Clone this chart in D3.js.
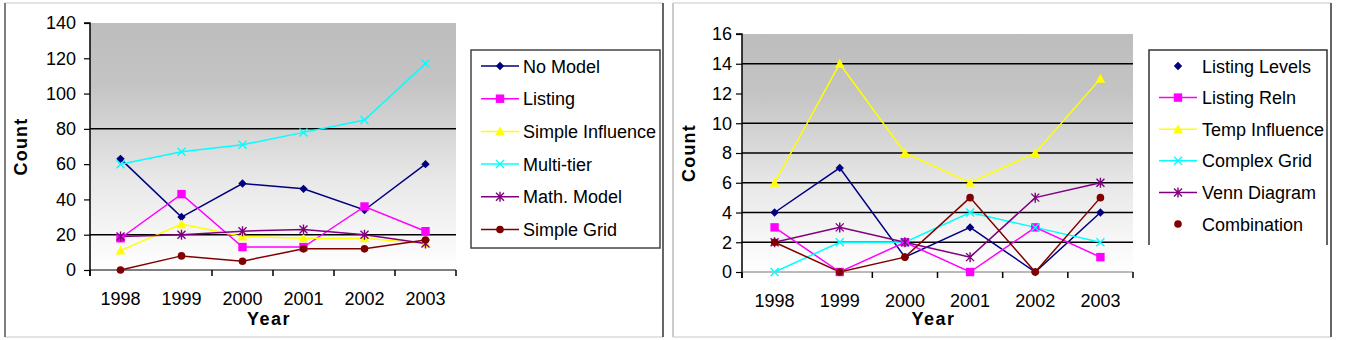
<!DOCTYPE html>
<html lang="en">
<head>
  <meta charset="utf-8">
  <title>Count by Year – two panels</title>
  <style>
    html,body { margin:0; padding:0; background:#fff; overflow:hidden; }
    svg  { display:block; }
    text { font-family:"Liberation Sans", Arial, sans-serif; fill:#000; }
  </style>
  <script src="https://d3js.org/d3.v7.min.js"></script>
</head>
<body>
  <svg width="1345" height="340"></svg>

  <script>
  /* ---------------- DATA ---------------- */
  const years = ["1998", "1999", "2000", "2001", "2002", "2003"];

  // left panel
  const leftNames  = ["No Model", "Listing", "Simple Influence", "Multi-tier", "Math. Model", "Simple Grid"];
  const noModel    = [63, 30, 49, 46, 34, 60];
  const listing    = [18, 43, 13, 13, 36, 22];
  const simpleInfl = [11, 26, 19, 18, 18, 15];
  const multiTier  = [60, 67, 71, 78, 85, 117];
  const mathModel  = [19, 20, 22, 23, 20, 15];
  const simpleGrid = [0, 8, 5, 12, 12, 17];
  const leftTicks  = [0, 20, 40, 60, 80, 100, 120, 140];
  const leftGrid   = [20, 80];

  // right panel
  const rightNames    = ["Listing Levels", "Listing Reln", "Temp Influence", "Complex Grid", "Venn Diagram", "Combination"];
  const listingLevels = [4, 7, 1, 3, 0, 4];
  const listingReln   = [3, 0, 2, 0, 3, 1];
  const tempInfl      = [6, 14, 8, 6, 8, 13];
  const complexGrid   = [0, 2, 2, 4, 3, 2];
  const vennDiagram   = [2, 3, 2, 1, 5, 6];
  const combination   = [2, 0, 1, 5, 0, 5];
  const rightTicks    = [0, 2, 4, 6, 8, 10, 12, 14, 16];
  const rightGrid     = [2, 4, 6, 8, 10, 14];

  /* ---------------- STYLE ---------------- */
  const colors  = ["#000080", "#ff00ff", "#ffff00", "#00ffff", "#800080", "#800000"];
  const markers = ["diamond", "square", "triangle", "x", "star", "circle"];

  const svg = d3.select("svg");

  // plot-area gradient
  const grad = svg.append("defs").append("linearGradient")
      .attr("id", "plotbg").attr("x1", 0).attr("y1", 0).attr("x2", 0).attr("y2", 1);
  grad.append("stop").attr("offset", "0%").attr("stop-color", "#bdbdbd");
  grad.append("stop").attr("offset", "25%").attr("stop-color", "#c4c4c4");
  grad.append("stop").attr("offset", "65%").attr("stop-color", "#e9e9e9");
  grad.append("stop").attr("offset", "100%").attr("stop-color", "#ffffff");

  function drawMarker(g, type, color, x, y) {
    const s = 4.2;
    if (type === "diamond") {
      g.append("path").attr("d", `M${x},${y-s}L${x+s},${y}L${x},${y+s}L${x-s},${y}Z`).attr("fill", color);
    } else if (type === "square") {
      g.append("rect").attr("x", x-4.2).attr("y", y-4.2).attr("width", 8.4).attr("height", 8.4).attr("fill", color);
    } else if (type === "triangle") {
      g.append("path").attr("d", `M${x},${y-5}L${x+4.8},${y+4}L${x-4.8},${y+4}Z`).attr("fill", color);
    } else if (type === "x" || type === "star") {
      let d = `M${x-4},${y-4}L${x+4},${y+4}M${x-4},${y+4}L${x+4},${y-4}`;
      if (type === "star") d += `M${x},${y-5}L${x},${y+5}`;
      g.append("path").attr("d", d).attr("stroke", color).attr("stroke-width", 1.4).attr("fill", "none");
    } else {
      g.append("circle").attr("cx", x).attr("cy", y).attr("r", 3.8).attr("fill", color);
    }
  }

  function drawPanel(cfg) {
    const root = svg.append("g");

    // outer frame
    root.append("line").attr("x1", cfg.frame[0]).attr("x2", cfg.frame[1]).attr("y1", 3).attr("y2", 3).attr("stroke", "#c8c8c8");
    root.append("line").attr("x1", cfg.frame[0]).attr("x2", cfg.frame[1]).attr("y1", 337).attr("y2", 337).attr("stroke", "#c8c8c8");
    root.append("line").attr("x1", cfg.frame[0]).attr("x2", cfg.frame[0]).attr("y1", 3).attr("y2", 337).attr("stroke", cfg.leftEdge).attr("stroke-width", 1.5);
    root.append("line").attr("x1", cfg.frame[1]).attr("x2", cfg.frame[1]).attr("y1", 3).attr("y2", 337).attr("stroke", "#333").attr("stroke-width", 1.5);

    const x = d3.scaleBand().domain(years).range([cfg.left, cfg.right]).padding(0);
    const y = d3.scaleLinear().domain([0, cfg.max]).range([cfg.bottom, cfg.top]);

    root.append("rect")
        .attr("x", cfg.left).attr("y", cfg.top)
        .attr("width", cfg.right - cfg.left).attr("height", cfg.bottom - cfg.top)
        .attr("fill", "url(#plotbg)");

    root.selectAll(".grid").data(cfg.grid).join("line")
        .attr("x1", cfg.left).attr("x2", cfg.right)
        .attr("y1", d => y(d)).attr("y2", d => y(d))
        .attr("stroke", "#000").attr("stroke-width", 1.5);

    // y axis
    const yAxis = root.append("g")
        .attr("transform", `translate(${cfg.left},0)`)
        .call(d3.axisLeft(y).tickValues(cfg.ticks).tickSize(6).tickPadding(cfg.labelPad));
    yAxis.select(".domain").attr("stroke", "#000").attr("stroke-width", 1.5)
        .attr("d", `M-6,${cfg.top}H0V${cfg.bottom + 6}`);
    yAxis.selectAll(".tick line").attr("stroke", "#000").attr("stroke-width", 1.2);
    yAxis.selectAll(".tick text").attr("font-size", 18).attr("font-family", "Liberation Sans, Arial");

    // x axis: ticks at category boundaries (first interior one is not visible in the source)
    const bounds = years.map(d => x(d)).concat([cfg.right]).filter((d, i) => i !== 1);
    root.append("line").attr("x1", cfg.left).attr("x2", cfg.right)
        .attr("y1", cfg.bottom).attr("y2", cfg.bottom).attr("stroke", cfg.xLine).attr("stroke-width", 1.2);
    root.selectAll(".xt").data(bounds).join("line")
        .attr("x1", d => d).attr("x2", d => d)
        .attr("y1", cfg.bottom).attr("y2", cfg.bottom + 6)
        .attr("stroke", "#000").attr("stroke-width", 1.5);
    root.selectAll(".xl").data(years).join("text")
        .attr("x", d => x(d) + x.bandwidth() / 2)
        .attr("y", cfg.bottom + 35)
        .attr("text-anchor", "middle").attr("font-size", 18)
        .text(d => d);

    root.append("text")
        .attr("x", (cfg.left + cfg.right) / 2 - 4).attr("y", 325)
        .attr("text-anchor", "middle").attr("font-size", 18).attr("font-weight", "bold")
        .attr("letter-spacing", 1.5)
        .text("Year");
    root.append("text")
        .attr("transform", `translate(${cfg.frame[0] + 22},${(cfg.top + cfg.bottom) / 2}) rotate(-90)`)
        .attr("text-anchor", "middle").attr("font-size", 18).attr("font-weight", "bold")
        .attr("letter-spacing", 1.2)
        .text("Count");

    // series
    const line = d3.line().x((d, i) => x(years[i]) + x.bandwidth() / 2).y(d => y(d));
    cfg.series.forEach((vals, k) => {
      root.append("path").datum(vals)
          .attr("d", line).attr("fill", "none")
          .attr("stroke", colors[k]).attr("stroke-width", 1.5);
    });
    cfg.series.forEach((vals, k) => {
      const g = root.append("g");
      vals.forEach((v, i) => drawMarker(g, markers[k], colors[k], x(years[i]) + x.bandwidth() / 2, y(v)));
    });

    // legend
    const lg = cfg.legend;
    const L = root.append("g");
    if (lg.closed) {
      L.append("rect").attr("x", lg.x0).attr("y", lg.y0).attr("width", lg.x1 - lg.x0).attr("height", lg.y1 - lg.y0)
          .attr("fill", "#fff").attr("stroke", "#444").attr("stroke-width", 1.5);
    } else {
      L.append("rect").attr("x", lg.x0).attr("y", lg.y0).attr("width", lg.x1 - lg.x0).attr("height", lg.y1 - lg.y0)
          .attr("fill", "#fff");
      L.append("path").attr("d", `M${lg.x0},${lg.y1}V${lg.y0}H${lg.x1}V${lg.y1}`)
          .attr("fill", "none").attr("stroke", "#333").attr("stroke-width", 1.5);
    }
    const clipId = "clip" + lg.x0;
    svg.select("defs").append("clipPath").attr("id", clipId)
       .append("rect").attr("x", lg.x0).attr("y", lg.y0).attr("width", lg.x1 - lg.x0 - 1).attr("height", lg.y1 - lg.y0);
    cfg.names.forEach((name, k) => {
      const yy = lg.first + k * lg.step;
      if (!lg.noLine.includes(k)) {
        L.append("line").attr("x1", lg.lineX[0]).attr("x2", lg.lineX[1]).attr("y1", yy).attr("y2", yy)
            .attr("stroke", colors[k]).attr("stroke-width", 1.5);
      }
      drawMarker(L, markers[k], colors[k], (lg.lineX[0] + lg.lineX[1]) / 2, yy);
      L.append("text").attr("x", lg.textX).attr("y", yy + 6.5)
          .attr("font-size", 18).attr("clip-path", `url(#${clipId})`).text(name);
    });
  }

  drawPanel({
    frame: [5, 663], leftEdge: "#555", xLine: "#000",
    left: 90, right: 456, top: 23, bottom: 270, max: 140,
    ticks: leftTicks, grid: leftGrid, labelPad: 8,
    series: [noModel, listing, simpleInfl, multiTier, mathModel, simpleGrid],
    names: leftNames,
    legend: { x0: 471, x1: 660, y0: 50, y1: 248, first: 66, step: 32.7,
              lineX: [481, 519], textX: 523, closed: true, noLine: [] }
  });

  drawPanel({
    frame: [673, 1331], leftEdge: "#bbb", xLine: "#777",
    left: 742, right: 1133, top: 34, bottom: 272, max: 16,
    ticks: rightTicks, grid: rightGrid, labelPad: 4,
    series: [listingLevels, listingReln, tempInfl, complexGrid, vennDiagram, combination],
    names: rightNames,
    legend: { x0: 1149, x1: 1327, y0: 50, y1: 245, first: 66, step: 31.6,
              lineX: [1159, 1197], textX: 1202, closed: false, noLine: [0, 5] }
  });
  </script>
</body>
</html>
